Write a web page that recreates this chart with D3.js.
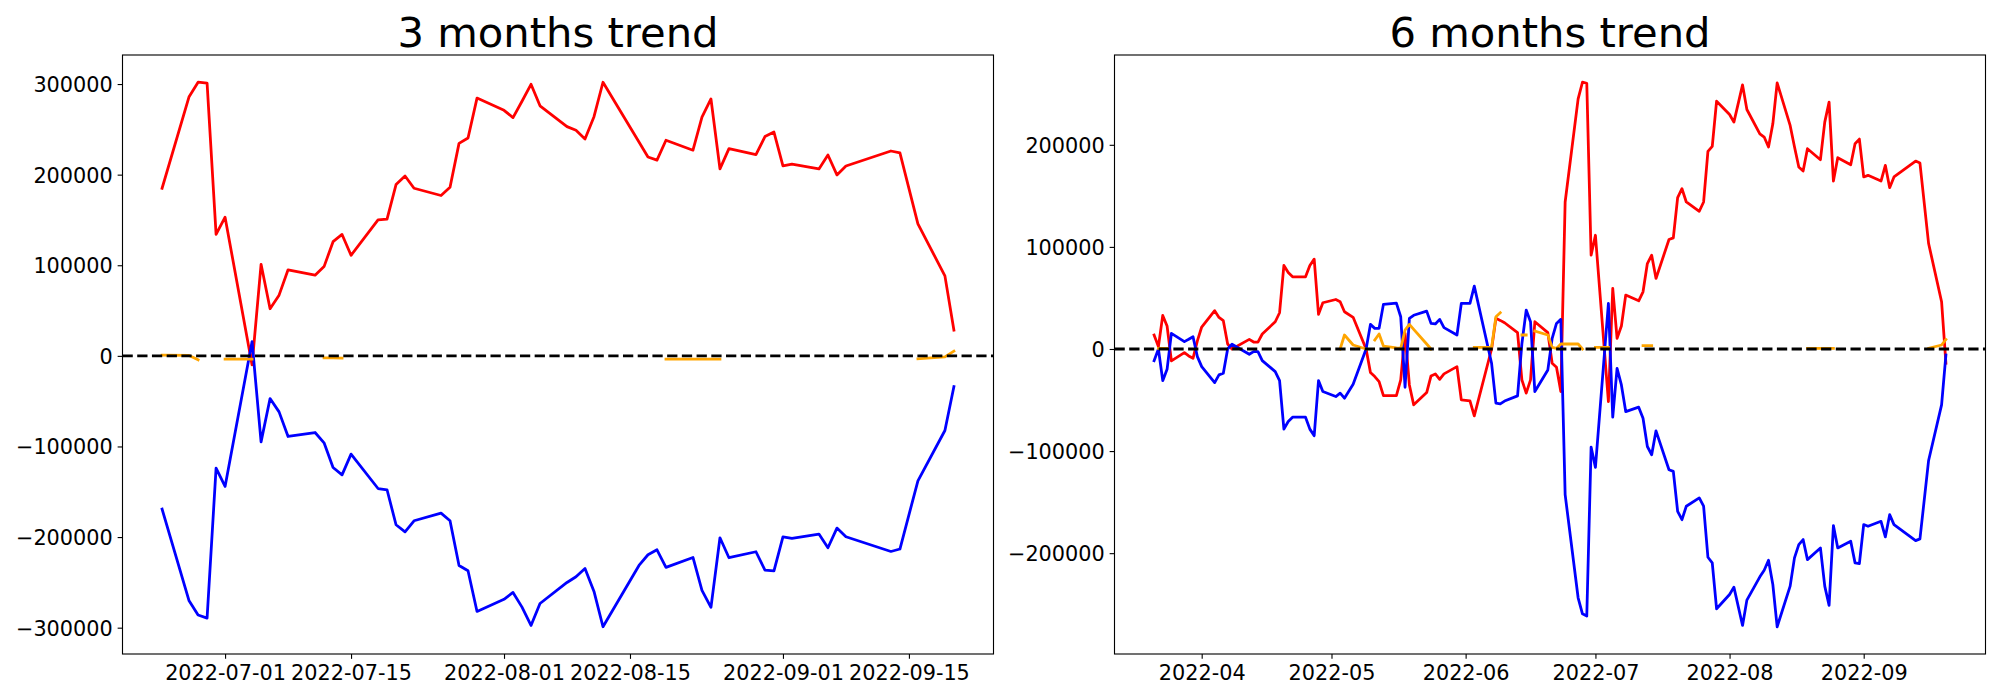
<!DOCTYPE html>
<html><head><meta charset="utf-8">
<script src="https://cdn.jsdelivr.net/npm/d3@7"></script>
<style>
body{margin:0;background:#fff}
svg{display:block}
text{font-family:"DejaVu Sans",sans-serif;fill:#000}
</style>
</head><body>
<svg id="chart" width="2000" height="700"></svg>
<script>
// ---------- 3 months ----------
const dates3 = ["2022-06-24","2022-06-27","2022-06-28","2022-06-29","2022-06-30",
"2022-07-01","2022-07-04","2022-07-05","2022-07-06","2022-07-07","2022-07-08","2022-07-11","2022-07-12","2022-07-13","2022-07-14","2022-07-15","2022-07-18","2022-07-19","2022-07-20","2022-07-21","2022-07-22","2022-07-25","2022-07-26","2022-07-27","2022-07-28","2022-07-29",
"2022-08-01","2022-08-02","2022-08-03","2022-08-04","2022-08-05","2022-08-08","2022-08-09","2022-08-10","2022-08-11","2022-08-12","2022-08-16","2022-08-17","2022-08-18","2022-08-19","2022-08-22","2022-08-23","2022-08-24","2022-08-25","2022-08-26","2022-08-29","2022-08-30","2022-08-31",
"2022-09-01","2022-09-02","2022-09-05","2022-09-06","2022-09-07","2022-09-08","2022-09-13","2022-09-14","2022-09-16","2022-09-19","2022-09-20"];
const red3 = [185000,286000,302000,301000,134000,
153000,-10000,101000,52000,67000,95000,89000,98500,126000,134000,111000,150000,151000,189000,198500,185000,177000,186000,234500,240500,284500,
271000,263000,281000,299700,276000,253000,249000,239400,264000,302000,236000,219500,216000,238000,227000,263600,283500,206300,228700,222000,242000,247000,
209600,211500,206300,221700,199700,209600,226100,224000,145600,88300,28300];
const blue3 = [-169100,-270300,-286000,-289400,-123900,
-144100,15800,-94900,-47100,-61800,-89000,-84600,-96000,-123200,-131300,-108400,-146400,-147800,-186400,-194200,-182000,-173600,-182000,-231300,-237200,-282100,
-268700,-261100,-277300,-297500,-273300,-250100,-243800,-234600,-260000,-299000,-231300,-219500,-214000,-233500,-222500,-258900,-277600,-200800,-222800,-216200,-236400,-237200,
-199700,-201500,-196700,-211800,-190100,-199700,-215900,-213200,-137900,-82400,-33900];
const orange3 = [700,500,-4400,null,null,
-3700,-3700,null,null,null,null,null,-2200,-2200,-2400,null,null,null,null,null,null,null,null,null,null,null,
null,null,null,null,null,null,null,null,null,null,null,null,null,-3700,-3700,-3700,-3700,-3700,null,null,null,null,
null,null,null,null,null,null,null,null,-3300,-1100,5200];
const xTicks3 = ["2022-07-01","2022-07-15","2022-08-01","2022-08-15","2022-09-01","2022-09-15"];
const yTicks3 = [-300000,-200000,-100000,0,100000,200000,300000];

// ---------- 6 months ----------
const dates6 = ["2022-03-21","2022-03-22","2022-03-23","2022-03-24","2022-03-25","2022-03-28","2022-03-29","2022-03-30","2022-03-31","2022-04-01",
"2022-04-04","2022-04-05","2022-04-06","2022-04-07","2022-04-08","2022-04-12","2022-04-13","2022-04-14","2022-04-15","2022-04-18",
"2022-04-19","2022-04-20","2022-04-21","2022-04-22","2022-04-25","2022-04-26","2022-04-27","2022-04-28","2022-04-29","2022-05-02",
"2022-05-03","2022-05-04","2022-05-06","2022-05-09","2022-05-10","2022-05-11","2022-05-12","2022-05-13","2022-05-16","2022-05-17",
"2022-05-18","2022-05-19","2022-05-20","2022-05-23","2022-05-24","2022-05-25","2022-05-26","2022-05-27","2022-05-30","2022-05-31",
"2022-06-02","2022-06-03","2022-06-07","2022-06-08","2022-06-09","2022-06-10","2022-06-13","2022-06-14","2022-06-15","2022-06-16",
"2022-06-17","2022-06-20","2022-06-21","2022-06-22","2022-06-23","2022-06-24","2022-06-27","2022-06-28","2022-06-29","2022-06-30",
"2022-07-01","2022-07-04","2022-07-05","2022-07-06","2022-07-07","2022-07-08","2022-07-11","2022-07-12","2022-07-13","2022-07-14",
"2022-07-15","2022-07-18","2022-07-19","2022-07-20","2022-07-21","2022-07-22","2022-07-25","2022-07-26","2022-07-27","2022-07-28",
"2022-07-29","2022-08-01","2022-08-02","2022-08-04","2022-08-05","2022-08-08","2022-08-09","2022-08-10","2022-08-11","2022-08-12",
"2022-08-15","2022-08-16","2022-08-17","2022-08-18","2022-08-19","2022-08-22","2022-08-23","2022-08-24","2022-08-25","2022-08-26",
"2022-08-29","2022-08-30","2022-08-31","2022-09-01","2022-09-02","2022-09-05","2022-09-06","2022-09-07","2022-09-08","2022-09-13",
"2022-09-14","2022-09-16","2022-09-19","2022-09-20"];
const red6 = [13700,2300,32900,22500,-11700,-3600,-6800,-9100,8000,21500,
37500,30900,27700,4900,0,9400,6800,6800,14700,26700,
35500,81800,74900,70700,70700,81800,88000,33900,45300,48500,
46300,36500,31000,0,-23100,-27000,-31900,-45600,-45600,-30300,
15300,-35200,-54700,-42700,-26400,-24400,-29700,-24400,-17300,-49900,
-50800,-65500,0,30000,28000,25700,16000,-30300,-43300,-30300,
26700,16000,-14000,-17900,-41700,144000,245000,261300,260300,91900,
111400,-51500,59300,10400,22500,52800,47200,56000,83700,91900,
69100,107200,108800,148300,157000,144000,134900,144000,193500,198400,
242700,229700,222200,258700,234600,210800,207600,197800,220600,260700,
219000,198000,178200,174300,196200,185400,222200,241800,164500,187400,
180500,201000,205600,168500,170100,164500,179900,158000,168500,184100,
182100,103300,46300,-14000];
const blue6 = [-11400,0,-31000,-19900,15300,7200,9500,12000,-7500,-17300,
-32900,-25400,-23800,0,4600,-5200,-2600,-2600,-11400,-22200,
-31000,-78500,-71000,-66800,-66800,-78500,-85000,-31000,-41700,-46600,
-43300,-48200,-34500,0,24100,20200,20200,43700,45000,31600,
-37500,30000,33000,37100,25100,24500,29000,20900,13700,44600,
44600,61600,-14000,-53100,-53800,-51000,-45900,5000,38100,26700,
-41700,-20500,10400,25000,29000,-142700,-243700,-259400,-261600,-96100,
-116000,44600,-66800,-18900,-35200,-61300,-57000,-67800,-95500,-103600,
-80200,-118300,-119900,-159000,-167200,-154000,-145900,-154000,-204000,-209500,
-254500,-240500,-233300,-270800,-246000,-223200,-216700,-206900,-230700,-272100,
-232300,-204600,-191600,-186700,-206300,-194900,-232300,-251200,-173000,-194900,
-188300,-209500,-210200,-172000,-173700,-168800,-184100,-162300,-172000,-187700,
-186000,-109200,-54700,-5900];
const orange6 = [null,500,500,500,null,null,null,null,null,null,
null,null,null,null,null,null,null,null,null,null,
null,null,null,null,null,null,null,null,null,null,
0,13700,3900,0,null,8800,14700,2900,1000,600,
18600,24100,19200,4900,0,null,null,null,null,null,
null,1600,1600,31600,35500,null,null,13700,13700,null,
17600,13700,1600,600,4900,4900,4900,0,null,null,
1600,1600,null,null,null,null,null,3300,3300,3300,
null,null,null,null,null,null,null,null,null,null,
null,null,null,null,null,null,null,null,null,null,
null,null,null,null,600,600,600,600,600,null,
null,null,null,null,null,null,null,null,null,null,
null,600,3900,9400];
const xTicks6 = ["2022-04-01","2022-05-01","2022-06-01","2022-07-01","2022-08-01","2022-09-01"];
const yTicks6 = [-200000,-100000,0,100000,200000];

const parseDate = d3.utcParse("%Y-%m-%d");
const svg = d3.select("#chart");
const TOP = 55, BOTTOM = 654;
const LW = 2.78, TICK = 4.86, PAD = 4.86, FS = 20.8;

function minusFmt(v){ return v < 0 ? "\u2212" + Math.abs(v) : String(v); }

function panel(opt){
  const {x0, x1, dates, red, blue, orange, xTicks, xFmt, yTicks, title} = opt;
  const g = svg.append("g");
  const pd = dates.map(parseDate);
  const [dmin, dmax] = d3.extent(pd);
  const span = dmax - dmin;
  const x = d3.scaleUtc().domain([new Date(+dmin - 0.05*span), new Date(+dmax + 0.05*span)]).range([x0, x1]);
  const vals = red.concat(blue, orange).filter(v => v != null);
  const [vmin, vmax] = d3.extent(vals);
  const vs = vmax - vmin;
  const y = d3.scaleLinear().domain([vmin - 0.05*vs, vmax + 0.05*vs]).range([BOTTOM, TOP]);

  const mk = arr => d3.line()
    .defined((d,i) => arr[i] != null)
    .x((d,i) => x(pd[i]))
    .y((d,i) => y(arr[i]));

  const series = [[red, "#ff0000"], [blue, "#0000ff"], [orange, "#ffa500"]];
  series.forEach(([arr, col]) => {
    g.append("path")
      .attr("d", mk(arr)(arr))
      .attr("fill", "none")
      .attr("stroke", col)
      .attr("stroke-width", LW)
      .attr("stroke-linejoin", "round")
      .attr("stroke-linecap", "square");
  });

  // zero dashed line
  g.append("line")
    .attr("x1", x0).attr("x2", x1)
    .attr("y1", y(0)).attr("y2", y(0))
    .attr("stroke", "#000").attr("stroke-width", LW)
    .attr("stroke-dasharray", "10.28,4.44");

  // axes
  const xa = g.append("g").attr("transform", `translate(0,${BOTTOM})`)
    .call(d3.axisBottom(x).tickValues(xTicks.map(parseDate)).tickFormat(xFmt)
      .tickSize(TICK).tickPadding(PAD));
  xa.select(".domain").remove();
  xa.selectAll("line").attr("stroke", "#000").attr("stroke-width", 1.11);
  xa.selectAll("text").attr("font-size", FS).attr("font-family", "DejaVu Sans")
    .attr("y", 26).attr("dy", null);

  const ya = g.append("g").attr("transform", `translate(${x0},0)`)
    .call(d3.axisLeft(y).tickValues(yTicks).tickFormat(minusFmt)
      .tickSize(TICK).tickPadding(PAD));
  ya.select(".domain").remove();
  ya.selectAll("line").attr("stroke", "#000").attr("stroke-width", 1.11);
  ya.selectAll("text").attr("font-size", FS).attr("font-family", "DejaVu Sans")
    .attr("dy", "0.36em");

  // frame
  g.append("rect").attr("x", x0).attr("y", TOP)
    .attr("width", x1 - x0).attr("height", BOTTOM - TOP)
    .attr("fill", "none").attr("stroke", "#000").attr("stroke-width", 1.11);

  // title
  g.append("text").attr("x", (x0 + x1)/2).attr("y", TOP - 8.3)
    .attr("text-anchor", "middle").attr("font-size", 41.7)
    .text(title);
}

panel({x0:122.5, x1:993.5, dates:dates3, red:red3, blue:blue3, orange:orange3,
  xTicks:xTicks3, xFmt:d3.utcFormat("%Y-%m-%d"), yTicks:yTicks3, title:"3 months trend"});
panel({x0:1114.5, x1:1985.5, dates:dates6, red:red6, blue:blue6, orange:orange6,
  xTicks:xTicks6, xFmt:d3.utcFormat("%Y-%m"), yTicks:yTicks6, title:"6 months trend"});
</script>
</body></html>
